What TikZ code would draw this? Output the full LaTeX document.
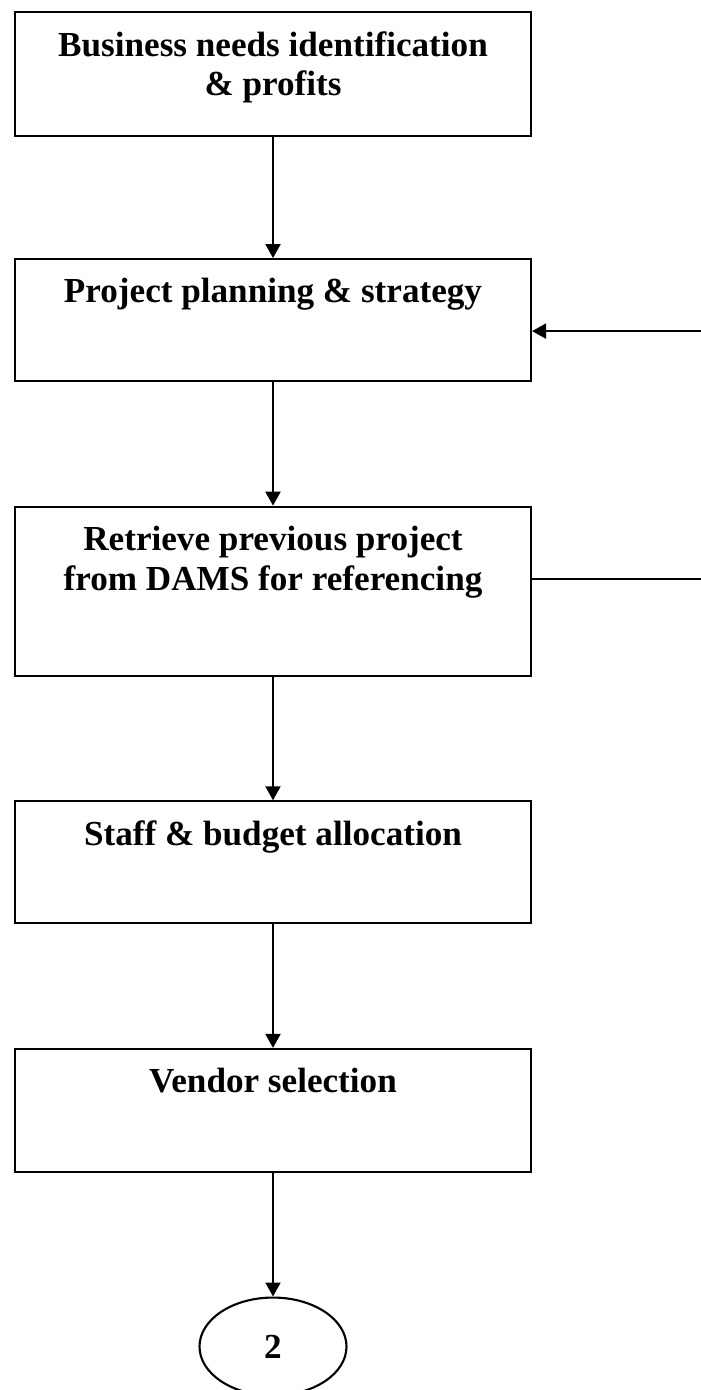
\documentclass[tikz,border=0pt]{standalone}
\usepackage{fontspec}
\setmainfont{Liberation Serif}
\usetikzlibrary{arrows.meta,positioning,calc,shapes.geometric}

\begin{document}
\begin{tikzpicture}[
    font=\fontsize{20}{22.7}\selectfont\bfseries,
    node distance=2.47cm,
    box/.style={
        rectangle,
        draw=black,
        line width=1.2pt,
        minimum width=10.32cm,
        minimum height=2.44cm,
        inner sep=0pt
    },
    boxtext/.style={
        anchor=north,
        align=center,
        inner sep=0pt,
        yshift=-0.4cm
    },
    connector/.style={
        ellipse,
        draw=black,
        line width=1.2pt,
        minimum width=2.94cm,
        minimum height=1.96cm,
        inner sep=0pt
    },
    arrow/.style={-{Triangle[length=0.28cm,width=0.3cm]}, line width=1.2pt}
]

\useasboundingbox (0,0) rectangle (14,-27.8);

% =========================================================
% CAJAS DEL PROCESO
% =========================================================

\node[box, minimum height=2.48cm] (needs) at (5.46,-1.48) {};
\node[boxtext] (needstext) at (needs.north)
{Business needs identification\\\& profits};

\node[box, below=2.42cm of needs] (planning) {};
\node[boxtext] (planningtext) at (planning.north)
{Project planning \& strategy};

\node[box, minimum height=3.38cm, below=of planning] (retrieve) {};
\node[boxtext] (retrievetext) at (retrieve.north)
{Retrieve previous project\\from DAMS for referencing};

\node[box, below=of retrieve] (staff) {};
\node[boxtext] (stafftext) at (staff.north)
{Staff \& budget allocation};

\node[box, minimum height=2.46cm, below=of staff] (vendor) {};
\node[boxtext] (vendortext) at (vendor.north)
{Vendor selection};

% conector hacia la pagina siguiente
\node[connector, below=of vendor] (next) {2};

% =========================================================
% LINEAS LATERALES
% =========================================================

\coordinate (planningin) at ($(planning.east)+(3.4,-0.22)$);
\coordinate (retrieveout) at ($(retrieve.east)+(3.4,0.24)$);

% =========================================================
% FLECHAS
% =========================================================

\draw[arrow] (needs) -- (planning);
\draw[arrow] (planning) -- (retrieve);
\draw[arrow] (retrieve) -- (staff);
\draw[arrow] (staff) -- (vendor);
\draw[arrow] (vendor) -- (next);

\draw[arrow] (planningin) -- (planningin -| planning.east);
\draw[line width=1.2pt] (retrieveout -| retrieve.east) -- (retrieveout);

\end{tikzpicture}
\end{document}
